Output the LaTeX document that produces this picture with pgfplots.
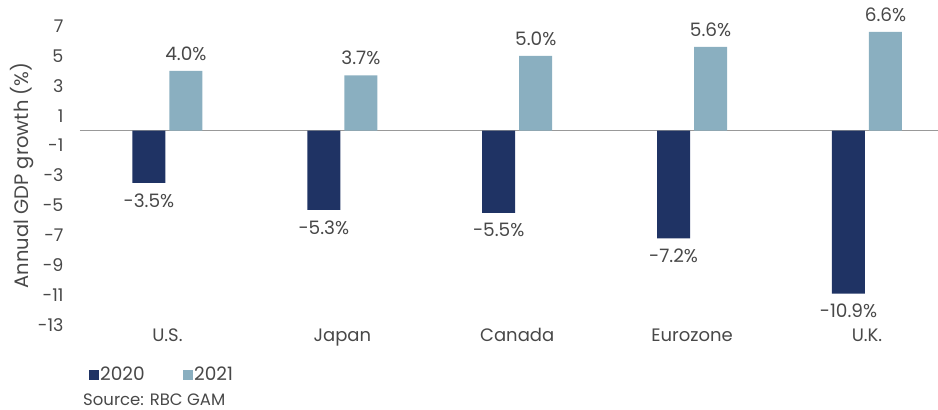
\documentclass[border=0pt]{standalone}
\usepackage{pgfplots}
\pgfplotsset{compat=1.18}
\usepackage{fontspec}
\setmainfont{Poppins}
\definecolor{navy}{HTML}{1F3364}
\definecolor{lblue}{HTML}{8AAFC0}
\definecolor{txt}{HTML}{484848}
\pgfplotsset{sqleg/.style={legend image code/.code={\fill[##1,draw=none] (0pt,-4.75pt) rectangle (9.5pt,4.75pt);}}}
\begin{document}
\begin{tikzpicture}
\begin{axis}[
  scale only axis, width=858pt, height=299pt,
  xmin=-0.5, xmax=4.406, ymin=-13, ymax=7,
  ytick={-13,-11,...,7},
  xtick={0,1,2,3,4}, xticklabels={U.S.,Japan,Canada,Eurozone,U.K.},
  axis line style={draw=none}, major tick length=0pt,
  ybar=4pt, bar width=33pt,
  extra y ticks={0}, extra y tick labels={},
  extra y tick style={grid=major, major grid style={draw=black!40, line width=1pt}},
  /pgf/number format/assume math mode=true,
  yticklabel style={font=\fontsize{17.5}{20}\selectfont, text=txt, xshift=-13pt},
  xticklabel style={font=\fontsize{18}{20}\selectfont, text=txt},
  ylabel={Annual GDP growth (\%)},
  ylabel style={at={(axis description cs:-0.0676,0.5)}, anchor=center, font=\fontsize{19.5}{22}\selectfont, text=txt},
  legend style={at={(axis description cs:0.007,-0.167)}, anchor=west, draw=none, fill=none,
    legend columns=2, font=\fontsize{18.5}{22}\selectfont, text=txt,
    nodes={inner sep=1.5pt},
    /tikz/every even column/.style={column sep=37pt}},
  nodes near coords={\pgfmathprintnumber[fixed,fixed zerofill,precision=1,assume math mode=true]{\pgfplotspointmeta}\%},
  nodes near coords style={font=\fontsize{18.5}{20}\selectfont, text=txt},
  point meta=y,
]
\addplot[fill=navy, draw=none, sqleg, every node near coord/.append style={yshift=-7pt}]
  coordinates {(0,-3.5) (1,-5.3) (2,-5.5) (3,-7.2) (4,-10.9)};
\addplot[fill=lblue, draw=none, sqleg, every node near coord/.append style={yshift=7pt}]
  coordinates {(0,4.0) (1,3.7) (2,5.0) (3,5.6) (4,6.6)};
\legend{2020,2021}
\end{axis}
\node[anchor=base west, font=\fontsize{16.5}{20}\selectfont, text=txt, inner sep=0pt] at (3pt,-80pt) {Source: RBC GAM};
\pgfresetboundingbox
\path[use as bounding box] (-80pt,-85pt) rectangle (858pt,325pt);
\end{tikzpicture}
\end{document}
